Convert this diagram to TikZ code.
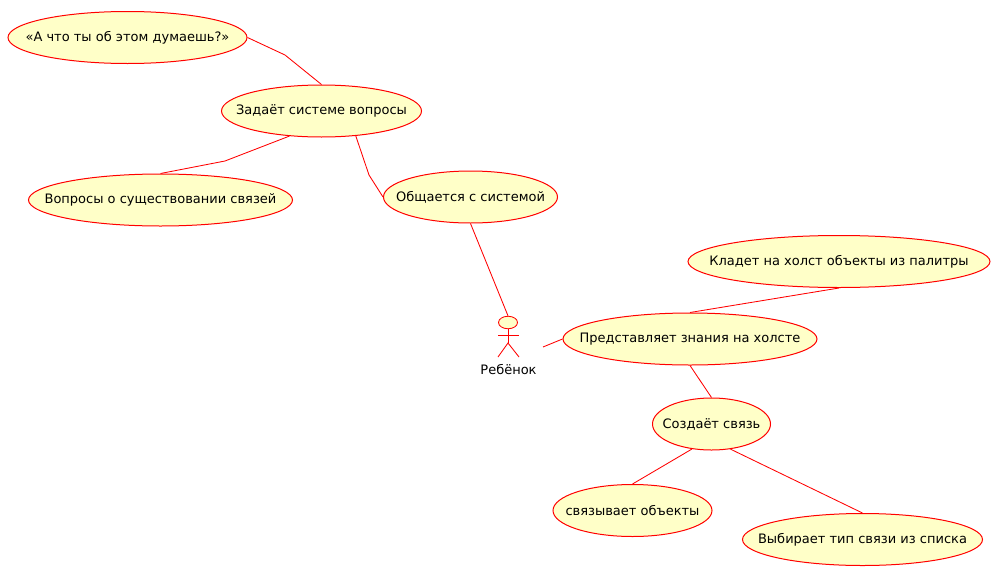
\documentclass[tikz,border=0pt]{standalone}
\usepackage{fontspec}
\setmainfont{DejaVu Sans}
\usetikzlibrary{shapes.geometric}
\definecolor{ucfill}{HTML}{FFFFC8}
\newcommand{\uctext}[1]{\makebox[0pt][c]{\raisebox{-0.8pt}{#1}}}
\tikzset{
  uc/.style={ellipse,draw=red,fill=ucfill,line width=1pt,inner sep=0pt,minimum height=52pt,text=black,font=\fontsize{13}{15}\selectfont},
  link/.style={draw=red,line width=0.85pt},
  actorpart/.style={draw=red,line width=0.85pt},
  actorhead/.style={ellipse,draw=red,fill=ucfill,line width=0.85pt,inner sep=0pt,minimum width=19pt,minimum height=12.5pt},
  actorlabel/.style={text=black,inner sep=0pt,font=\fontsize{13}{15}\selectfont}
}
\begin{document}
\begin{tikzpicture}[x=1pt,y=-1pt]
\useasboundingbox (0,0) rectangle (999,573);
\fill[white] (0,0) rectangle (999,573);
\node[uc,minimum width=239pt] (think) at (127.5,37.5) {\uctext{«А что ты об этом думаешь?»}};
\node[uc,minimum width=200pt] (ask) at (321.5,111) {\uctext{Задаёт системе вопросы}};
\node[uc,minimum width=264pt] (exist) at (160.5,200) {\uctext{Вопросы о существовании связей}};
\node[uc,minimum width=174pt] (talk) at (470.5,197) {\uctext{Общается с системой}};
\node[uc,minimum width=302pt] (put) at (839,261.5) {\uctext{Кладет на холст объекты из палитры}};
\node[uc,minimum width=254pt] (repr) at (690,339) {\uctext{Представляет знания на холсте}};
\node[uc,minimum width=118pt] (make) at (711.5,424) {\uctext{Создаёт связь}};
\node[uc,minimum width=159pt] (bind) at (632.5,510.5) {\uctext{связывает объекты}};
\node[uc,minimum width=240pt] (choose) at (862.5,539.5) {\uctext{Выбирает тип связи из списка}};
% actor
\node[actorhead] (head) at (508,322.5) {};
\coordinate (hip) at (508,343);
\coordinate (armL) at (498,335);
\coordinate (armR) at (519,335);
\coordinate (legL) at (498,357);
\coordinate (legR) at (519,357);
\coordinate (actorEnd) at (543,347);
\draw[actorpart] (head.south) -- (hip);
\draw[actorpart] (armL) -- (armR);
\draw[actorpart] (legL) -- (hip) -- (legR);
\node[actorlabel] (child) at (508.5,370) {Ребёнок};
% connectors
\coordinate (v1) at (285,55);
\coordinate (v2) at (225,161);
\coordinate (v3) at (369,175);
\draw[link] (think.east) -- (v1) -- (ask.north);
\draw[link] (ask.218.5) -- (v2) -- (exist.north);
\draw[link] (ask.324) -- (v3) -- (talk.west);
\draw[link] (talk.south) -- (head.north);
\draw[link] (actorEnd) -- (repr.west);
\draw[link] (put.south) -- (repr.north);
\draw[link] (repr.south) -- (make.north);
\draw[link] (make.232.3) -- (bind.north);
\draw[link] (make.307.7) -- (choose.north);
\end{tikzpicture}
\end{document}
